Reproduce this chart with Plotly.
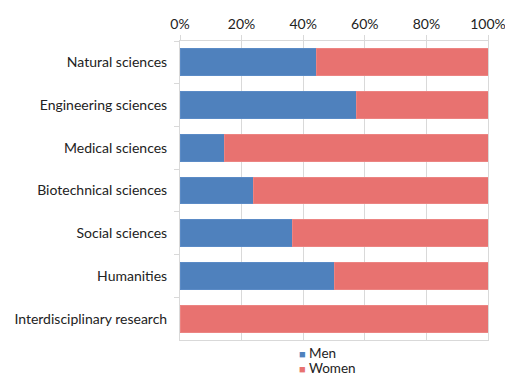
import plotly.graph_objects as go

categories = ["Natural sciences", "Engineering sciences", "Medical sciences",
              "Biotechnical sciences", "Social sciences", "Humanities",
              "Interdisciplinary research"]
men = [44.3, 57.4, 14.3, 24.0, 36.6, 50.2, 0.0]
women = [100 - v for v in men]
tick_vals = [0, 20, 40, 60, 80, 100]
tick_text = ["0%", "20%", "40%", "60%", "80%", "100%"]
series_names = ["Men", "Women"]
series_colors = ["#4F81BD", "#E87270"]

fig = go.Figure()
fig.add_trace(go.Bar(y=categories, x=men, name=series_names[0], orientation="h",
                     marker=dict(color=series_colors[0], line=dict(color="#5B8BC6", width=1))))
fig.add_trace(go.Bar(y=categories, x=women, name=series_names[1], orientation="h",
                     marker=dict(color=series_colors[1], line=dict(color="#EC8482", width=1))))

# compact legend drawn as text, like the reference
for i, (nm, col) in enumerate(zip(series_names, series_colors)):
    fig.add_annotation(xref="paper", yref="paper", x=(297 - 180) / 308,
                       y=-(13 + 15 * i) / 299, xanchor="left", yanchor="middle",
                       showarrow=False,
                       text=f"<span style='color:{col};font-size:11px'>■</span> {nm}",
                       font=dict(size=13.5, color="#222222"))

fig.update_layout(
    barmode="stack",
    bargap=0.37,
    showlegend=False,
    width=505, height=375,
    margin=dict(l=172, r=25, t=33, b=43, autoexpand=False),
    paper_bgcolor="white", plot_bgcolor="white",
    font=dict(family="Lato, Open Sans, sans-serif", size=14, color="#222222"),
    xaxis=dict(side="top", range=[0, 100], tickvals=tick_vals, ticktext=tick_text,
               showgrid=True, gridcolor="#D9D9D9", gridwidth=1,
               showline=True, linecolor="#D9D9D9", linewidth=1, mirror=True,
               ticks="outside", ticklen=5, tickcolor="#D9D9D9", automargin=False,
               tickfont=dict(size=14), zeroline=False, fixedrange=True),
    yaxis=dict(autorange="reversed", showline=True, linecolor="#D9D9D9", linewidth=1,
               mirror=True, ticks="outside", ticklen=5, tickcolor="#D9D9D9",
               tickson="boundaries", ticklabelstandoff=9, showgrid=False,
               automargin=False, tickfont=dict(size=14)),
)

fig.write_html("out.html")
